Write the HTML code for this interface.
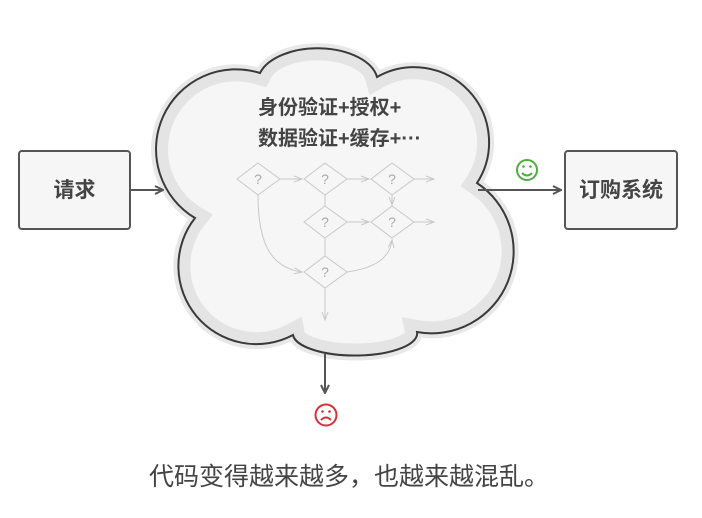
<!DOCTYPE html>
<html><head><meta charset="utf-8"><style>
html,body{margin:0;padding:0;background:#fff;}
svg{display:block;}
text{font-family:"Liberation Sans","Noto Sans CJK SC",sans-serif;}
</style></head><body>
<svg width="702" height="518" viewBox="0 0 702 518" xmlns="http://www.w3.org/2000/svg">
<defs>
<path id="cloud" d="M260,73 A60,34 0 0 1 377,77 A75,75 0 0 1 477,183 A82,82 0 0 1 417,332 A62,22 0 0 1 293,335 A78,78 0 0 1 195,218 A80,80 0 0 1 260,73 Z"/>
<clipPath id="cc"><use href="#cloud"/></clipPath>
<marker id="ah" markerWidth="10" markerHeight="10" refX="9" refY="5" orient="auto" markerUnits="userSpaceOnUse">
<path d="M1,1 L9,5 L1,9" fill="none" stroke="#555" stroke-width="2"/></marker>
<marker id="ahl" markerWidth="10" markerHeight="10" refX="8" refY="4" orient="auto" markerUnits="userSpaceOnUse">
<path d="M0,1 L8,4 L0,7" fill="none" stroke="#c8c8c8" stroke-width="1"/></marker>
</defs>
<use href="#cloud" fill="none" stroke="#e8e8e8" stroke-width="10"/>
<use href="#cloud" fill="#f6f6f6"/>
<use href="#cloud" fill="none" stroke="#e4e4e4" stroke-width="24" clip-path="url(#cc)"/>
<use href="#cloud" fill="none" stroke="#3a3a3a" stroke-width="2"/>
<text x="258" y="114" font-size="20" font-weight="bold" fill="#444">身份验证+授权+</text>
<text x="258" y="145" font-size="20" font-weight="bold" fill="#444">数据验证+缓存+···</text>
<g stroke="#c8c8c8" stroke-width="1" fill="none">
<path d="M237,179 L258,163 L280,179 L258,195 Z"/>
<path d="M304,179 L325,163 L347,179 L325,195 Z"/>
<path d="M371,179 L392,163 L414,179 L392,195 Z"/>
<path d="M304,222 L325,206 L347,222 L325,238 Z"/>
<path d="M371,222 L392,206 L414,222 L392,238 Z"/>
<path d="M304,272 L325,256 L347,272 L325,288 Z"/>
<path d="M280,179 L302,179" marker-end="url(#ahl)"/>
<path d="M347,179 L369,179" marker-end="url(#ahl)"/>
<path d="M414,179 L434,179" marker-end="url(#ahl)"/>
<path d="M347,222 L369,222" marker-end="url(#ahl)"/>
<path d="M414,222 L434,222" marker-end="url(#ahl)"/>
<path d="M392,195 L392,205" marker-end="url(#ahl)"/>
<path d="M325,195 L325,206"/>
<path d="M325,238 L325,256"/>
<path d="M325,288 L325,320" marker-end="url(#ahl)"/>
<path d="M258,195 C258,250 275,268 302,272" marker-end="url(#ahl)"/>
<path d="M347,272 C375,268 390,258 392,240" marker-end="url(#ahl)"/>
</g>
<g fill="#aaa" font-size="14" text-anchor="middle">
<text x="258" y="184">?</text><text x="325" y="184">?</text><text x="392" y="184">?</text>
<text x="325" y="227">?</text><text x="392" y="227">?</text><text x="325" y="277">?</text>
</g>
<rect x="19" y="151" width="111" height="78" rx="3" fill="#f6f6f6" stroke="#555" stroke-width="2"/>
<text x="74.5" y="197" font-size="21" font-weight="bold" fill="#444" text-anchor="middle">请求</text>
<rect x="565" y="151" width="112" height="78" rx="3" fill="#f6f6f6" stroke="#555" stroke-width="2"/>
<text x="621" y="197" font-size="21" font-weight="bold" fill="#444" text-anchor="middle">订购系统</text>
<path d="M130,190 L163,190" stroke="#555" stroke-width="2" marker-end="url(#ah)"/>
<path d="M478,190 L561,190" stroke="#555" stroke-width="2" marker-end="url(#ah)"/>
<path d="M325,354 L325,393" stroke="#555" stroke-width="2" marker-end="url(#ah)"/>
<g stroke="#4cae3c" stroke-width="2" fill="none">
<circle cx="527" cy="170" r="10"/>
<path d="M522,173 Q527,178 532,173"/>
</g>
<circle cx="523.5" cy="166.5" r="1.3" fill="#4cae3c"/><circle cx="530.5" cy="166.5" r="1.3" fill="#4cae3c"/>
<g stroke="#d0343a" stroke-width="2" fill="none">
<circle cx="326" cy="415" r="10.5"/>
<path d="M321,420 Q326,415 331,420"/>
</g>
<circle cx="322.5" cy="411.5" r="1.3" fill="#d0343a"/><circle cx="329.5" cy="411.5" r="1.3" fill="#d0343a"/>
<text x="349" y="485" font-size="25" fill="#444" text-anchor="middle">代码变得越来越多，也越来越混乱。</text>
</svg>
</body></html>
